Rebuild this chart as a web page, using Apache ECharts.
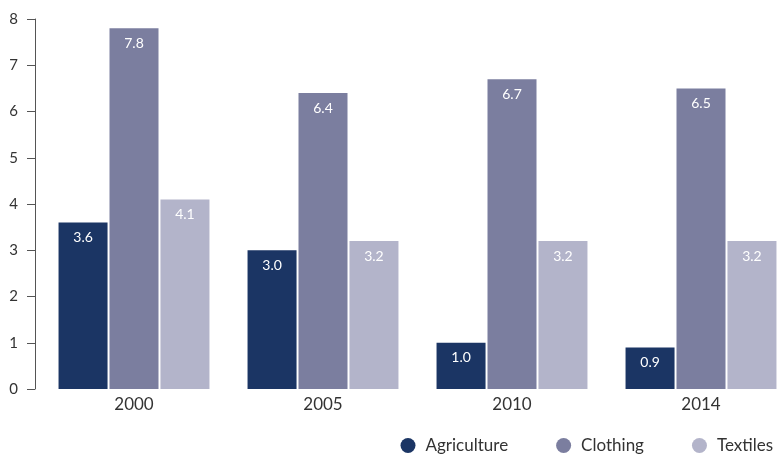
<!DOCTYPE html>
<html><head><meta charset="utf-8">
<script src="https://cdn.jsdelivr.net/npm/echarts@6/dist/echarts.min.js"></script>
<style>html,body{margin:0;padding:0;background:#fff;overflow:hidden;width:777px;height:454px}#c{width:820px;height:454px}</style>
</head><body><div id="c"></div>
<script>
var categories = ['2000', '2005', '2010', '2014'];
var agriculture = [3.6, 3.0, 1.0, 0.9];
var clothing = [7.8, 6.4, 6.7, 6.5];
var textiles = [4.1, 3.2, 3.2, 3.2];
var yTicks = [0, 1, 2, 3, 4, 5, 6, 7, 8];

var font = 'Lato, "Open Sans", sans-serif';
function ser(name, data, color) {
  return {
    name: name, type: 'bar', data: data, barWidth: 49, barGap: '4%',
    itemStyle: { color: color },
    label: { show: true, position: 'insideTop', distance: 8, color: '#fff', fontSize: 14, fontFamily: font,
      formatter: function (p) { return p.value.toFixed(1); } }
  };
}
var chart = echarts.init(document.getElementById('c'));
chart.setOption({
  animation: false,
  grid: { left: 39.5, top: 19, width: 756, height: 370, containLabel: false },
  legend: {
    left: 395.5, top: 432, padding: [5, 5, 5, 5], icon: 'circle', itemWidth: 15, itemHeight: 15, itemGap: 48,
    textStyle: { fontSize: 17, color: '#333', fontFamily: font, padding: [0, 0, 0, 5] },
    data: ['Agriculture', 'Clothing', 'Textiles']
  },
  xAxis: {
    type: 'category', data: categories,
    axisLine: { show: false }, axisTick: { show: false },
    axisLabel: { fontSize: 17, color: '#333', fontFamily: font, margin: 7 }
  },
  yAxis: {
    type: 'value', min: yTicks[0], max: yTicks[yTicks.length - 1], interval: 1, offset: 4.5,
    axisLine: { show: true, lineStyle: { color: '#555', width: 1 } },
    axisTick: { show: true, length: 8, lineStyle: { color: '#555' } },
    splitLine: { show: false },
    axisLabel: { fontSize: 15, color: '#333', fontFamily: font, margin: 17 }
  },
  series: [
    ser('Agriculture', agriculture, '#1b3564'),
    ser('Clothing', clothing, '#7b7e9f'),
    ser('Textiles', textiles, '#b3b4ca')
  ]
});
</script></body></html>
